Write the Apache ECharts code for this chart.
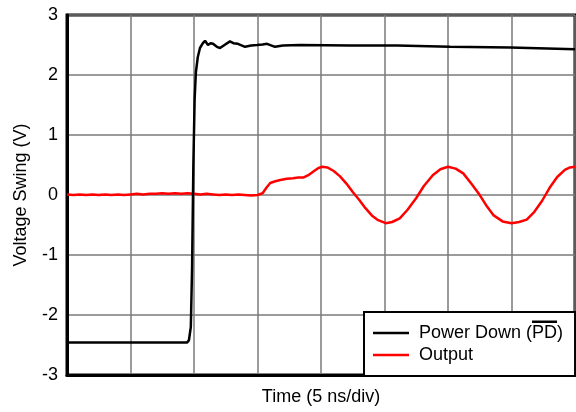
<!DOCTYPE html>
<html>
<head>
<meta charset="utf-8">
<script src="https://cdn.jsdelivr.net/npm/echarts@6/dist/echarts.min.js"></script>
<style>html,body{margin:0;padding:0;background:#fff}#c{width:576px;height:412px}</style>
</head>
<body>
<div id="c"></div>
<script>
// Time in ns (5 ns/div), voltage in V
var yTicks = [-3, -2, -1, 0, 1, 2, 3];
var seriesNames = ['Power Down (PD)', 'Output'];
var powerDown = [
  [0,-2.46],[5,-2.46],[9.45,-2.46],[9.6,-2.42],[9.75,-2.2],[9.85,-1.2],[9.95,0.5],[10.05,1.6],
  [10.15,2.05],[10.3,2.3],[10.47,2.45],[10.7,2.53],[10.87,2.57],[11.1,2.5],[11.3,2.53],[11.5,2.52],
  [11.8,2.47],[12.05,2.45],[12.4,2.5],[12.83,2.56],[13.1,2.53],[13.46,2.52],[14.02,2.47],[14.5,2.49],
  [14.96,2.5],[15.4,2.51],[15.75,2.52],[16.38,2.47],[17,2.49],[18.35,2.5],[22.3,2.49],[26,2.49],
  [30.16,2.47],[34.9,2.46],[40,2.43]
];
var output = [
  [0,0.01],[0.5,0.0],[1,0.01],[1.5,0.0],[2,0.01],[2.5,0.0],[3,0.01],[3.5,0.0],[4,0.01],[4.5,0.0],
  [5,0.01],[5.5,0.02],[6,0.01],[6.5,0.02],[7,0.02],[7.5,0.03],[8,0.02],[8.5,0.03],[9,0.02],[9.5,0.03],
  [10,0.02],[10.5,0.01],[11,0.02],[11.5,0.01],[12,0.0],[12.5,0.01],[13,0.0],[13.5,0.01],[14,0.0],
  [14.5,-0.01],[15,0.0],[15.4,0.03],[15.7,0.12],[16.0,0.2],[16.4,0.23],[16.8,0.25],[17.3,0.27],
  [17.8,0.28],[18.2,0.29],[18.6,0.29],[19.0,0.33],[19.4,0.39],[19.8,0.45],[20.1,0.47],[20.5,0.46],
  [21.0,0.40],[21.5,0.31],[22.0,0.19],[22.5,0.05],[23.0,-0.08],[23.5,-0.22],[24.0,-0.34],[24.5,-0.42],
  [25.1,-0.47],[25.6,-0.45],[26.2,-0.39],[26.8,-0.25],[27.5,-0.05],[28.1,0.15],[28.8,0.33],[29.4,0.43],
  [30.0,0.47],[30.6,0.44],[31.2,0.36],[31.8,0.2],[32.4,0.03],[33.0,-0.17],[33.6,-0.34],[34.3,-0.44],
  [35.0,-0.47],[35.6,-0.45],[36.2,-0.41],[36.8,-0.28],[37.4,-0.1],[38.0,0.12],[38.6,0.3],[39.2,0.42],
  [39.6,0.46],[40,0.47]
];

var FONT = 'Liberation Sans, Arial, Helvetica, sans-serif';
var FS = 18;
var LEG_LEFT = 364, LEG_TOP = 312, PAD_L = 9, PAD_T = 12, ICON_W = 36, TEXT_PAD = 5;

var chart = echarts.init(document.getElementById('c'), null, {renderer: 'canvas'});

// measure text for overline on "PD"
var cv = document.createElement('canvas').getContext('2d');
cv.font = FS + 'px ' + FONT;
var w1 = cv.measureText('Power Down (').width;
var w2 = cv.measureText('PD').width;
var textX = LEG_LEFT + PAD_L + ICON_W + 5 + TEXT_PAD;
var rowCenter = LEG_TOP + PAD_T + 9;

chart.setOption({
  animation: false,
  grid: {left: 67, right: 1, top: 15, bottom: 37, show: true, borderColor: '#000', borderWidth: 3, containLabel: false},
  xAxis: {
    type: 'value', min: 0, max: 40, interval: 5,
    name: 'Time (5 ns/div)', nameLocation: 'middle', nameGap: 13,
    nameTextStyle: {fontFamily: FONT, fontSize: FS, color: '#000'},
    axisLabel: {show: false}, axisTick: {show: false},
    axisLine: {show: true, onZero: false, lineStyle: {color: '#000', width: 3}},
    splitLine: {show: true, lineStyle: {color: '#7a7a7a', width: 1.5}}
  },
  yAxis: {
    type: 'value', min: yTicks[0], max: yTicks[yTicks.length - 1], interval: 1,
    name: 'Voltage Swing (V)', nameLocation: 'middle', nameGap: 37,
    nameTextStyle: {fontFamily: FONT, fontSize: FS, color: '#000'},
    axisLabel: {fontFamily: FONT, fontSize: FS, color: '#000', margin: 9},
    axisTick: {show: false},
    axisLine: {show: true, onZero: false, lineStyle: {color: '#000', width: 3}},
    splitLine: {show: true, lineStyle: {color: '#7a7a7a', width: 1.5}}
  },
  legend: {
    data: seriesNames,
    orient: 'vertical', left: LEG_LEFT, top: LEG_TOP,
    padding: [PAD_T, 12, 12, PAD_L],
    itemGap: 4, itemWidth: ICON_W, itemHeight: 14,
    icon: 'path://M0,6 L36,6 L36,8.5 L0,8.5 Z',
    borderColor: '#000', borderWidth: 2, backgroundColor: '#fff',
    textStyle: {fontFamily: FONT, fontSize: FS, color: '#000', padding: [0, 0, 0, TEXT_PAD]}
  },
  graphic: [{
    type: 'rect', z: 100,
    shape: {x: textX + w1, y: rowCenter - 12.5, width: w2, height: 2.5},
    style: {fill: '#000'}
  }],
  series: [
    {name: seriesNames[1], type: 'line', data: output, showSymbol: false, symbol: 'none',
     lineStyle: {color: '#ff0000', width: 2.5}, itemStyle: {color: '#ff0000'}, z: 2},
    {name: seriesNames[0], type: 'line', data: powerDown, showSymbol: false, symbol: 'none',
     lineStyle: {color: '#000', width: 2.5}, itemStyle: {color: '#000'}, z: 3}
  ]
});
</script>
</body>
</html>
